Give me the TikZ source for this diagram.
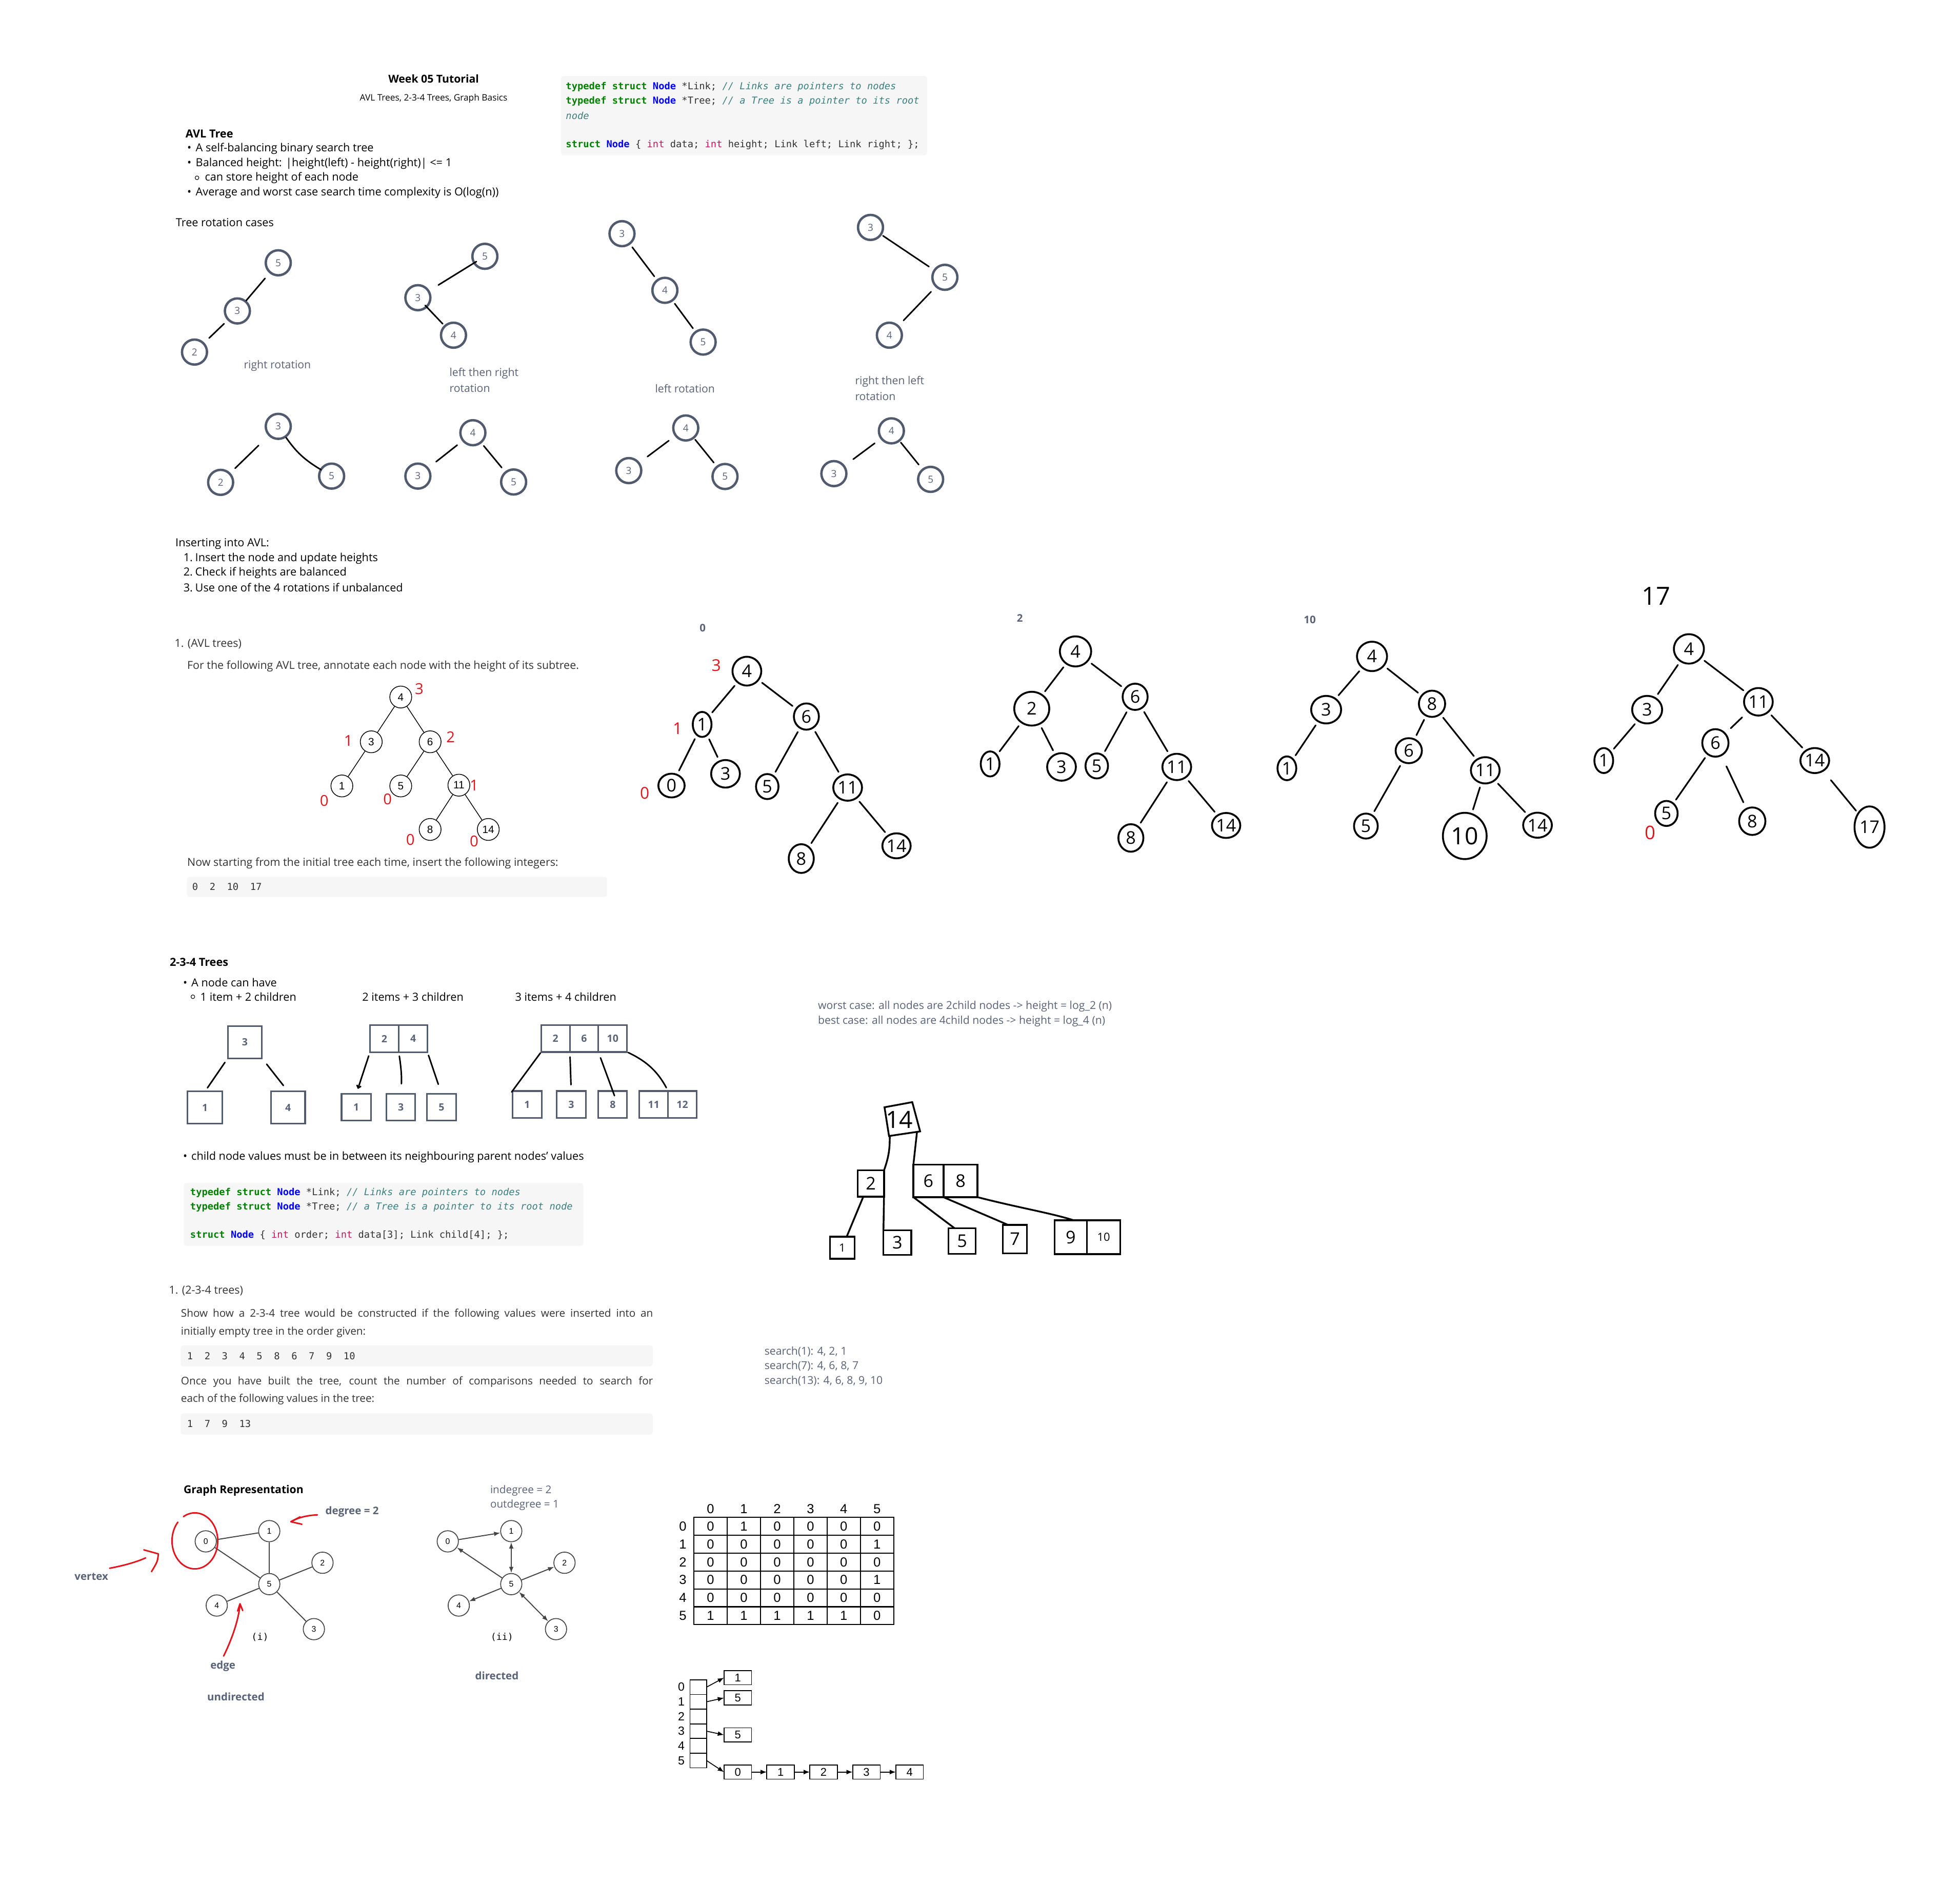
\documentclass[tikz,border=0pt]{standalone}
\usepackage{fontspec}
\setmainfont{Open Sans}
\setmonofont{DejaVu Sans Mono}
\newfontfamily\helv{Liberation Sans}
\usetikzlibrary{arrows.meta,shapes.geometric}
\definecolor{slate}{HTML}{525A6E}
\definecolor{slatetxt}{HTML}{5A6277}
\definecolor{codebg}{HTML}{F6F6F6}
\definecolor{kwgreen}{HTML}{008000}
\definecolor{tyblue}{HTML}{0000FF}
\definecolor{intred}{HTML}{C2185B}
\definecolor{cmteal}{HTML}{3D7F7F}
\definecolor{hred}{HTML}{E3141C}
\definecolor{inkgray}{HTML}{333333}
\definecolor{graphgray}{HTML}{444444}
\newcommand{\fsz}[1]{\fontsize{#1}{#1}\selectfont}
\newcommand{\ckw}[1]{{\color{kwgreen}\bfseries #1}}
\newcommand{\cty}[1]{{\color{tyblue}\bfseries #1}}
\newcommand{\ccm}[1]{{\color{cmteal}\itshape #1}}
\newcommand{\cint}[1]{{\color{intred}#1}}
\tikzset{
  body/.style={anchor=west, inner sep=0pt, font=\fsz{8.9}, text=black},
  note/.style={anchor=west, inner sep=0pt, font=\fsz{8.7}, text=slatetxt},
  lbl/.style={inner sep=0pt, font=\bfseries\fsz{8.4}, text=slatetxt},
  shot/.style={anchor=west, inner sep=0pt, font=\fsz{8.8}, text=inkgray},
  code/.style={anchor=west, inner sep=0pt, font=\ttfamily\fsz{7.7}, text=inkgray},
  codebox/.style={fill=codebg, rounded corners=2pt},
  rn/.style={circle, draw=slate, line width=1.9pt, minimum size=20pt, inner sep=0pt, text=slatetxt, font=\fsz{7.8}},
  re/.style={line width=1.2pt, line cap=round},
  an/.style={circle, draw=black, line width=0.6pt, minimum size=17.5pt, inner sep=0pt, font=\helv\fsz{8.5}},
  ae/.style={line width=0.6pt},
  redtxt/.style={inner sep=0pt, text=hred, font=\fsz{12}},
  hn/.style={ellipse, draw=black, line width=1.5pt, minimum width=22pt, minimum height=22pt, inner sep=0pt, font=\fsz{14}},
  he/.style={line width=1.3pt, line cap=round, shorten <=3pt, shorten >=3pt},
  bx/.style={rectangle, draw=slate, line width=1.3pt, inner sep=0pt, outer sep=0pt, text=slatetxt, font=\bfseries\fsz{8}},
  sk/.style={line width=1.2pt, line cap=round},
  hb/.style={rectangle, draw=black, line width=1.4pt, inner sep=0pt, outer sep=0pt, font=\fsz{14}},
  gn/.style={circle, draw=graphgray, line width=0.7pt, minimum size=17pt, inner sep=0pt, font=\helv\fsz{6.5}},
  ge/.style={draw=graphgray, line width=0.8pt},
  gtip/.style={-{Latex[length=5pt,width=3.6pt]}},
  redp/.style={draw=hred, line width=1.2pt, line cap=round, line join=round},
  mcell/.style={inner sep=0pt, font=\helv\fsz{10.5}},
  mline/.style={line width=0.9pt},
  acell/.style={rectangle, draw, line width=0.7pt, minimum width=13.2pt, minimum height=11.73pt, inner sep=0pt, outer sep=0pt},
  lbox/.style={rectangle, draw, line width=0.7pt, minimum width=22pt, minimum height=11.3pt, inner sep=0pt, outer sep=0pt, font=\helv\fsz{9}},
  larr/.style={line width=0.7pt, -{Latex[length=5pt,width=3.8pt]}}
}
\begin{document}
\begin{tikzpicture}[x=1pt,y=-1pt]
\useasboundingbox (0,0) rectangle (1568,1506);
\fill[white] (0,0) rectangle (1568,1506);

% ---------- code boxes ----------
\fill[codebox] (448.9,60.8) rectangle (741.7,124.2);
\fill[codebox] (149.6,701.4) rectangle (485.6,717.4);
\fill[codebox] (147.1,946.2) rectangle (466.6,996.4);
\fill[codebox] (144.6,1076) rectangle (522.2,1092.9);
\fill[codebox] (144.6,1130.5) rectangle (522.2,1147.4);

% ---------- header ----------
\node[font=\bfseries\fsz{8.7}, inner sep=0pt] (title) at (346.9,62.9) {Week 05 Tutorial};
\node[font=\fsz{7.1}, inner sep=0pt] (subtitle) at (346.9,78.6) {AVL Trees, 2-3-4 Trees, Graph Basics};

\node[code] (c1a) at (452.5,69.4) {\ckw{typedef struct} \cty{Node} *Link; \ccm{// Links are pointers to nodes}};
\node[code] (c1b) at (452.5,80.9) {\ckw{typedef struct} \cty{Node} *Tree; \ccm{// a Tree is a pointer to its root}};
\node[code] (c1c) at (452.5,92.7) {\ccm{node}};
\node[code] (c1d) at (452.5,116) {\ckw{struct} \cty{Node} \{ \cint{int} data; \cint{int} height; Link left; Link right; \};};

\node[body, font=\bfseries\fsz{8.9}] (avlh) at (148.3,106.9) {AVL Tree};
\node[body] (avl1) at (149.6,119) {\makebox[6.8pt][l]{•}A self-balancing binary search tree};
\node[body] (avl2) at (149.6,130.6) {\makebox[6.8pt][l]{•}Balanced height: |height(left) - height(right)| <= 1};
\draw[line width=0.45pt] (157.6,142.2) circle[radius=1.5];
\node[body] (avl3) at (163.7,142.2) {can store height of each node};
\node[body] (avl4) at (149.6,154.3) {\makebox[6.8pt][l]{•}Average and worst case search time complexity is O(log(n))};

% ---------- rotation cases ----------
\node[body] (trc) at (140.5,177.8) {Tree rotation cases};

\node[rn] (A5) at (222.6,210.2) {5};
\node[rn] (A3) at (189.9,248.7) {3};
\node[rn] (A2) at (155.6,281.6) {2};
\draw[re, shorten <=5.4pt] (A5) -- (A3);
\draw[re, shorten <=3.7pt, shorten >=5.2pt] (A3) -- (A2);
\node[note] (lA) at (194.9,292.5) {right rotation};

\node[rn] (B5) at (387.9,205) {5};
\node[rn] (B3) at (334.3,238.1) {3};
\node[rn] (B4) at (362.8,268.1) {4};
\draw[re, shorten <=-3pt, shorten >=8.3pt] (B5) -- (B3);
\draw[re, shorten <=-2.4pt, shorten >=1.6pt] (B3) -- (B4);
\node[note] (lB1) at (359.4,298.7) {left then right};
\node[note] (lB2) at (359.4,310.4) {rotation};

\node[rn] (C3) at (497.6,186.9) {3};
\node[rn] (C4) at (531.9,232.2) {4};
\node[rn] (C5) at (562.5,273.6) {5};
\draw[re, shorten <=2.6pt, shorten >=3pt] (C3) -- (C4);
\draw[re, shorten <=2.3pt, shorten >=2.7pt] (C4) -- (C5);
\node[note] (lC) at (523.9,310.9) {left rotation};

\node[rn] (D3) at (696.4,181.9) {3};
\node[rn] (D5) at (755.9,221.8) {5};
\node[rn] (D4) at (711.5,268.1) {4};
\draw[re, shorten <=1pt, shorten >=4.4pt] (D3) -- (D5);
\draw[re, shorten <=5pt, shorten >=5.4pt] (D5) -- (D4);
\node[note] (lD1) at (683.9,305.3) {right then left};
\node[note] (lD2) at (683.9,317.1) {rotation};

\node[rn] (E3) at (222.6,341) {3};
\node[rn] (E2) at (176.5,385.8) {2};
\node[rn] (E5) at (265.3,380.8) {5};
\draw[re, shorten <=11pt, shorten >=5.2pt] (E3) -- (E2);
\draw[re, shorten >=-1pt] (E3) to[bend right=12] (E5);

\node[rn] (F4) at (378.3,346.1) {4};
\node[rn] (F3) at (334.3,380.8) {3};
\node[rn] (F5) at (410.9,385.5) {5};
\draw[re, shorten <=5pt, shorten >=7.6pt] (F4) -- (F3);
\draw[re, shorten <=2.7pt, shorten >=4pt] (F4) -- (F5);

\node[rn] (G4) at (548.6,342.3) {4};
\node[rn] (G3) at (503,376.4) {3};
\node[rn] (G5) at (580,381.1) {5};
\draw[re, shorten <=6pt, shorten >=7.7pt] (G4) -- (G3);
\draw[re, shorten <=1pt, shorten >=3.3pt] (G4) -- (G5);

\node[rn] (H4) at (713.1,344.6) {4};
\node[rn] (H3) at (667.1,378.8) {3};
\node[rn] (H5) at (744.5,383.4) {5};
\draw[re, shorten <=5.7pt, shorten >=8.3pt] (H4) -- (H3);
\draw[re, shorten <=1pt, shorten >=4.2pt] (H4) -- (H5);

% ---------- inserting ----------
\node[body] (ins) at (140.2,434.9) {Inserting into AVL:};
\node[body] (ins1) at (146.6,446.9) {\makebox[9.4pt][l]{1.}Insert the node and update heights};
\node[body] (ins2) at (146.6,458.1) {\makebox[9.4pt][l]{2.}Check if heights are balanced};
\node[body] (ins3) at (146.6,469.7) {\makebox[9.4pt][l]{3.}Use one of the 4 rotations if unbalanced};

\node[shot] (q1) at (139.5,515) {1. (AVL trees)};
\node[shot] (q1t) at (149.6,533) {For the following AVL tree, annotate each node with the height of its subtree.};

\node[an] (v4) at (320.6,557.5) {4};
\node[an] (v3) at (297.0,593.3) {3};
\node[an] (v6) at (344.1,593.3) {6};
\node[an] (v1) at (273.5,628.6) {1};
\node[an] (v5) at (320.6,628.6) {5};
\node[an] (v11) at (367.1,628.0) {11};
\node[an] (v8) at (344.1,663.4) {8};
\node[an] (v14) at (390.6,663.4) {14};
\draw[ae] (v4) -- (v3); \draw[ae] (v4) -- (v6); \draw[ae] (v3) -- (v1);
\draw[ae] (v6) -- (v5); \draw[ae] (v6) -- (v11); \draw[ae] (v11) -- (v8); \draw[ae] (v11) -- (v14);
\node[redtxt] (rv4) at (335.4,550.8) {3};
\node[redtxt] (rv3) at (278.7,592.3) {1};
\node[redtxt] (rv6) at (360.5,589.4) {2};
\node[redtxt] (rv11) at (379.3,628) {1};
\node[redtxt] (rv1) at (259.4,640.6) {0};
\node[redtxt] (rv5) at (310,639.2) {0};
\node[redtxt] (rv8) at (328.3,671.5) {0};
\node[redtxt] (rv14) at (379.3,673) {0};

\node[shot] (q1n) at (149.6,690.4) {Now starting from the initial tree each time, insert the following integers:};
\node[code] (q1c) at (153.6,709.1) {0\ \ 2\ \ 10\ \ 17};

% ---------- hand trees ----------
\node[lbl] (pl) at (562.1,502.4) {0};
\node[hn, minimum width=23pt, minimum height=23pt] (p4) at (597.5,536.8) {4};
\node[hn, minimum width=15pt, minimum height=20pt] (p1) at (561.7,579.4) {1};
\node[hn, minimum width=20pt, minimum height=21pt] (p6) at (645.1,573.1) {6};
\node[hn, minimum width=21pt, minimum height=19pt] (p0) at (537.2,628.3) {0};
\node[hn, minimum width=23pt, minimum height=22pt] (p3) at (580.4,618.9) {3};
\node[hn, minimum width=18pt, minimum height=20pt] (p5) at (613.8,629.1) {5};
\node[hn, minimum width=23pt, minimum height=21pt] (p11) at (678.1,629.9) {11};
\node[hn, minimum width=20pt, minimum height=23pt] (p8) at (641,686.7) {8};
\node[hn, minimum width=22pt, minimum height=20pt] (p14) at (717.2,676.5) {14};
\draw[he] (p4) -- (p1); \draw[he] (p4) -- (p6); \draw[he] (p1) -- (p0); \draw[he] (p1) -- (p3);
\draw[he] (p6) -- (p5); \draw[he] (p6) -- (p11); \draw[he] (p11) -- (p8); \draw[he] (p11) -- (p14);
\node[redtxt, font=\fsz{13}] (rp4) at (573,532.1) {3};
\node[redtxt, font=\fsz{13}] (rp1) at (542,582.6) {1};
\node[redtxt, font=\fsz{13}] (rp0) at (515.8,634.3) {0};

\node[lbl] (ql) at (815.9,494.5) {2};
\node[hn, minimum width=25pt, minimum height=24pt] (q4) at (860.4,521) {4};
\node[hn, minimum width=28pt, minimum height=27pt] (q2) at (825.4,566.8) {2};
\node[hn, minimum width=20pt, minimum height=21pt] (q6) at (908.1,557.3) {6};
\node[hn, minimum width=15pt, minimum height=20pt] (q1n) at (792.1,611) {1};
\node[hn, minimum width=23pt, minimum height=22pt] (q3) at (849.2,613.4) {3};
\node[hn, minimum width=18pt, minimum height=20pt] (q5) at (877.4,612.6) {5};
\node[hn, minimum width=23pt, minimum height=21pt] (q11) at (941.4,613.4) {11};
\node[hn, minimum width=20pt, minimum height=22pt] (q8) at (904.7,670.2) {8};
\node[hn, minimum width=22pt, minimum height=20pt] (q14) at (980.9,660.2) {14};
\draw[he] (q4) -- (q2); \draw[he] (q4) -- (q6); \draw[he] (q2) -- (q1n); \draw[he] (q2) -- (q3);
\draw[he] (q6) -- (q5); \draw[he] (q6) -- (q11); \draw[he] (q11) -- (q8); \draw[he] (q11) -- (q14);

\node[lbl] (sl) at (1047.8,495.8) {10};
\node[hn, minimum width=24pt, minimum height=23.5pt] (s4) at (1097.6,525) {4};
\node[hn, minimum width=24pt, minimum height=22pt] (s3) at (1060.9,567.6) {3};
\node[hn, minimum width=21pt, minimum height=21pt] (s8) at (1145.6,562.9) {8};
\node[hn, minimum width=15pt, minimum height=19pt] (s1) at (1029.5,614.5) {1};
\node[hn, minimum width=21pt, minimum height=20pt] (s6) at (1127,600.4) {6};
\node[hn, minimum width=23pt, minimum height=21pt] (s11) at (1188.2,616.1) {11};
\node[hn, minimum width=19pt, minimum height=20pt] (s5) at (1092.7,660.7) {5};
\node[hn, minimum width=35pt, minimum height=37pt, font=\fsz{19}] (s10) at (1171.8,668.6) {10};
\node[hn, minimum width=23pt, minimum height=20pt] (s14) at (1230,660) {14};
\draw[he] (s4) -- (s3); \draw[he] (s4) -- (s8); \draw[he] (s3) -- (s1); \draw[he] (s8) -- (s6);
\draw[he] (s8) -- (s11); \draw[he] (s6) -- (s5); \draw[he] (s11) -- (s10); \draw[he] (s11) -- (s14);

\node[inner sep=0pt, font=\fsz{20}] (ul) at (1324.9,476.7) {17};
\node[hn, minimum width=24pt, minimum height=23.5pt] (u4) at (1351.1,519) {4};
\node[hn, minimum width=24pt, minimum height=22pt] (u3) at (1317.7,567.6) {3};
\node[hn, minimum width=23pt, minimum height=22pt] (u11) at (1406.7,561.3) {11};
\node[hn, minimum width=15pt, minimum height=20pt] (u1) at (1283,608.3) {1};
\node[hn, minimum width=21pt, minimum height=22pt] (u6) at (1372.3,594.2) {6};
\node[hn, minimum width=23pt, minimum height=20pt] (u14) at (1451.8,608.3) {14};
\node[hn, minimum width=18pt, minimum height=20pt] (u5) at (1333.1,650.6) {5};
\node[hn, minimum width=21pt, minimum height=22pt] (u8) at (1401.8,656.8) {8};
\node[hn, minimum width=24pt, minimum height=33pt, font=\fsz{14}] (u17) at (1495.6,661.5) {17};
\draw[he] (u4) -- (u3); \draw[he] (u4) -- (u11); \draw[he] (u3) -- (u1);
\draw[he, shorten <=6pt, shorten >=5.5pt] (u11) -- (u6);
\draw[he] (u11) -- (u14); \draw[he] (u6) -- (u5);
\draw[he, shorten <=9pt, shorten >=5pt] (u6) -- (u8);
\draw[he, shorten <=9pt, shorten >=2pt] (u14) -- (u17);
\node[redtxt, font=\fsz{15}] (ru5) at (1320,666.2) {0};

% ---------- 2-3-4 trees ----------
\node[body, font=\bfseries\fsz{8.9}] (t234) at (135.6,769.6) {2-3-4 Trees};
\node[body] (t234a) at (146.3,785.8) {\makebox[6.6pt][l]{•}A node can have};
\draw[line width=0.45pt] (154.3,797.2) circle[radius=1.5];
\node[body] (t234b) at (160.1,797.2) {1 item + 2 children};
\node[body] (t234c) at (289.6,797.2) {2 items + 3 children};
\node[body] (t234d) at (411.9,797.2) {3 items + 4 children};

\node[bx, minimum width=27.4pt, minimum height=25.8pt] (B3) at (195.9,833.5) {3};
\node[bx, minimum width=27.9pt, minimum height=25.7pt] (B1) at (164,885.8) {1};
\node[bx, minimum width=27.3pt, minimum height=25.7pt] (B4) at (230.45,885.8) {4};
\draw[sk, shorten <=4pt, shorten >=3.5pt] (B3.south west) -- (B1.north);
\draw[sk, shorten <=6pt, shorten >=6pt] (B3.south east) -- (B4.north);

\node[bx, minimum width=23.1pt, minimum height=21.9pt] (C2) at (307.45,830.75) {2};
\node[bx, minimum width=23pt, minimum height=21.9pt] (C4) at (330.5,830.75) {4};
\node[bx, minimum width=23.6pt, minimum height=21.5pt] (B1b) at (285,885.55) {1};
\node[bx, minimum width=23pt, minimum height=21.5pt] (B3b) at (320.7,885.55) {3};
\node[bx, minimum width=23.6pt, minimum height=21.5pt] (B5b) at (353.2,885.55) {5};
\draw[sk, shorten <=3pt, shorten >=4pt, -{Straight Barb[length=2pt,width=3.5pt]}] (C2.south west) -- (B1b.north);
\draw[sk, shorten <=3pt, shorten >=8pt] (C2.south east) to[bend left=6] (B3b.north);
\draw[sk, shorten <=2.5pt, shorten >=8pt] (C4.south east) -- (B5b.north);

\node[bx, minimum width=23pt, minimum height=21.6pt] (D2) at (444.4,830.6) {2};
\node[bx, minimum width=22.8pt, minimum height=21.6pt] (D6) at (467.3,830.6) {6};
\node[bx, minimum width=23pt, minimum height=21.6pt] (D10) at (490.2,830.6) {10};
\node[bx, minimum width=23.6pt, minimum height=21.7pt] (E1) at (421.7,883.45) {1};
\node[bx, minimum width=23.3pt, minimum height=21.7pt] (E3) at (456.95,883.45) {3};
\node[bx, minimum width=23pt, minimum height=21.7pt] (E8) at (490.2,883.45) {8};
\node[bx, minimum width=23pt, minimum height=21.7pt] (E11) at (523,883.45) {11};
\node[bx, minimum width=22.7pt, minimum height=21.7pt] (E12) at (545.85,883.45) {12};
\draw[sk, shorten <=1pt, shorten >=-1pt] (D2.south west) -- (E1.north west);
\draw[sk, shorten <=4pt, shorten >=5pt] (D2.south east) -- (E3.north);
\draw[sk, shorten <=5pt, shorten >=-4pt] (D6.south east) -- (E8.north);
\draw[sk, shorten <=1pt, shorten >=3pt] (D10.south east) to[bend left=18] (E11.north east);

\node[body] (t234e) at (146.3,925.6) {\makebox[6.6pt][l]{•}child node values must be in between its neighbouring parent nodes' values};

\node[code] (c2a) at (152,954) {\ckw{typedef struct} \cty{Node} *Link; \ccm{// Links are pointers to nodes}};
\node[code] (c2b) at (152,965.4) {\ckw{typedef struct} \cty{Node} *Tree; \ccm{// a Tree is a pointer to its root node}};
\node[code] (c2c) at (152,988) {\ckw{struct} \cty{Node} \{ \cint{int} order; \cint{int} data[3]; Link child[4]; \};};

\node[note] (wc) at (654.2,805) {worst case: all nodes are 2child nodes -> height = log\_2 (n)};
\node[note] (bc) at (654.2,816.7) {best case: all nodes are 4child nodes -> height = log\_4 (n)};

% hand-drawn 2-3-4 tree
\node[inner sep=0pt, font=\fsz{19}] (H14) at (719.5,895.5) {14};
\draw[sk, line width=1.4pt] (707.6,885.6) -- (729.8,881.5) -- (736.1,904.9) -- (711.2,908.6) -- cycle;
\coordinate (H14sw) at (711.8,908.5);
\coordinate (H14se) at (733.6,905.2);
\node[hb, minimum width=21pt, minimum height=21pt] (H2) at (696.7,946.6) {2};
\node[hb, minimum width=24pt, minimum height=26pt] (H6) at (742.7,944.5) {6};
\node[hb, minimum width=27pt, minimum height=26pt] (H8) at (768.5,944.5) {8};
\node[hb, minimum width=19.6pt, minimum height=17.6pt, font=\fsz{9}] (H1) at (673.8,997.9) {1};
\node[hb, minimum width=22.3pt, minimum height=19.8pt] (H3) at (717.9,993.9) {3};
\node[hb, minimum width=21.7pt, minimum height=20.5pt] (H5) at (769.7,992.7) {5};
\node[hb, minimum width=19.3pt, minimum height=22.7pt] (H7) at (811.9,991) {7};
\node[hb, minimum width=25.8pt, minimum height=27pt] (H9) at (856.6,989.5) {9};
\node[hb, minimum width=26.7pt, minimum height=27pt, font=\fsz{9}] (H10) at (882.9,989.5) {10};
\draw[sk, line width=1.4pt] (H14sw) to[bend left=10] (H2.north east);
\draw[sk, line width=1.4pt] (H14se) -- (H6.north west);
\draw[sk, line width=1.4pt] (H2.240) -- (H1.68);
\draw[sk, line width=1.4pt] (H2.south east) -- (H3.north west);
\draw[sk, line width=1.4pt] (H6.south west) -- (H5.120);
\draw[sk, line width=1.4pt] (H6.south east) -- (H7.116);
\draw[sk, line width=1.4pt] (H8.south east) .. controls (815,966) and (840,970) .. (H9.80);

% 2-3-4 question
\node[shot] (q2h) at (135,1032.5) {1. (2-3-4 trees)};
\node[shot, font=\fsz{8.5}] (q2a) at (144.6,1050.9) {\makebox[377.6pt][s]{Show how a 2-3-4 tree would be constructed if the following values were inserted into an}};
\node[shot, font=\fsz{8.5}] (q2b) at (144.6,1065.3) {initially empty tree in the order given:};
\node[code] (q2c) at (149.5,1084.7) {1\ \ 2\ \ 3\ \ 4\ \ 5\ \ 8\ \ 6\ \ 7\ \ 9\ \ 10};
\node[shot, font=\fsz{8.5}] (q2d) at (144.6,1105.2) {\makebox[377.6pt][s]{Once you have built the tree, count the number of comparisons needed to search for}};
\node[shot, font=\fsz{8.5}] (q2e) at (144.6,1119.3) {each of the following values in the tree:};
\node[code] (q2f) at (149.5,1138.9) {1\ \ 7\ \ 9\ \ 13};

\node[note] (sr1) at (611.4,1081) {search(1): 4, 2, 1};
\node[note] (sr2) at (611.4,1092.6) {search(7): 4, 6, 8, 7};
\node[note] (sr3) at (611.4,1104.3) {search(13): 4, 6, 8, 9, 10};

% ---------- graph representation ----------
\node[body, font=\bfseries\fsz{8.7}] (grh) at (146.7,1192.2) {Graph Representation};
\node[lbl, anchor=west] (deg) at (260.2,1208.9) {degree = 2};

\node[gn] (g0) at (164.6,1232.8) {0};
\node[gn] (g1) at (215.4,1224.6) {1};
\node[gn] (g2) at (258,1249.9) {2};
\node[gn] (g5) at (215.4,1267) {5};
\node[gn] (g4) at (173.4,1284.1) {4};
\node[gn] (g3) at (251.1,1303) {3};
\draw[ge] (g0) -- (g1); \draw[ge] (g0) -- (g5); \draw[ge] (g1) -- (g5);
\draw[ge] (g5) -- (g2); \draw[ge] (g5) -- (g4); \draw[ge] (g5) -- (g3);
\node[inner sep=0pt, font=\ttfamily\fsz{7.5}] (gi) at (208,1309.4) {(i)};

% red annotations
\draw[redp] (146.75,1213) arc[start angle=-120, end angle=222, x radius=18.3, y radius=22.4];
\draw[redp] (87.7,1254.3) .. controls (100,1252) and (110,1249) .. (116.5,1246);
\draw[redp] (115.1,1239.6) -- (126.7,1242.8) .. controls (126,1249) .. (121.2,1257);
\draw[redp] (253.9,1211.6) .. controls (245,1212) and (238,1214) .. (232.7,1217.1);
\draw[redp] (240.1,1213.2) -- (232.7,1217.1) -- (241.5,1219.1);
\draw[redp] (178.9,1324.5) .. controls (186,1310) and (191,1295) .. (192,1283);
\draw[redp] (190.1,1288.5) -- (192,1282.7) -- (194.2,1288.2);
\node[lbl] (vx) at (73.1,1261.1) {vertex};
\node[lbl] (ed) at (178.3,1332.7) {edge};
\node[lbl] (und) at (188.7,1357) {undirected};

\node[note, font=\fsz{8.5}] (ind) at (392,1192.2) {indegree = 2};
\node[note, font=\fsz{8.5}] (outd) at (392,1203.7) {outdegree = 1};
\node[gn] (h0) at (358.2,1232.8) {0};
\node[gn] (h1) at (409,1224.6) {1};
\node[gn] (h2) at (451.6,1249.9) {2};
\node[gn] (h5) at (409,1267) {5};
\node[gn] (h4) at (367,1284.1) {4};
\node[gn] (h3) at (444.8,1303) {3};
\draw[ge, gtip] (h0) -- (h1);
\draw[ge, {Latex[length=5pt,width=3.6pt]}-{Latex[length=5pt,width=3.6pt]}] (h1) -- (h5);
\draw[ge, gtip] (h5) -- (h0);
\draw[ge, gtip] (h5) -- (h2);
\draw[ge, gtip] (h5) -- (h4);
\draw[ge, {Latex[length=5pt,width=3.6pt]}-{Latex[length=5pt,width=3.6pt]}] (h5) -- (h3);
\node[inner sep=0pt, font=\ttfamily\fsz{7.5}] (gii) at (401.6,1309.4) {(ii)};
\node[lbl] (dir) at (397.5,1340.2) {directed};

% ---------- adjacency matrix ----------
\draw[mline] (555.1,1213.6) rectangle (715,1299.4);
\foreach \i in {1,...,5} {
  \draw[mline] ({555.1+\i*26.65},1213.6) -- ({555.1+\i*26.65},1299.4);
  \draw[mline] (555.1,{1213.6+\i*14.3}) -- (715,{1213.6+\i*14.3});
}
\foreach \c in {0,...,5} {
  \node[mcell] (mh\c) at ({568.4+\c*26.65},1206.7) {\c};
  \node[mcell] (mr\c) at (546.2,{1220.75+\c*14.3}) {\c};
}
\foreach \r/\vals in {0/{0,1,0,0,0,0},1/{0,0,0,0,0,1},2/{0,0,0,0,0,0},3/{0,0,0,0,0,1},4/{0,0,0,0,0,0},5/{1,1,1,1,1,0}} {
  \foreach \v [count=\c from 0] in \vals {
    \node[mcell] (m\r\c) at ({568.4+\c*26.65},{1220.75+\r*14.3}) {\v};
  }
}

% ---------- adjacency list ----------
\foreach \i in {0,...,5} {
  \node[acell] (a\i) at (558.6,{1349.4+\i*11.73}) {};
  \node[mcell, font=\helv\fsz{9.5}] (al\i) at (545,{1349.1+\i*11.8}) {\i};
}
\node[lbox] (l0) at (590.2,1341.85) {1};
\node[lbox] (l1) at (590.2,1357.95) {5};
\node[lbox] (l3) at (590.2,1387.6) {5};
\node[lbox] (l5a) at (590.2,1417.3) {0};
\node[lbox] (l5b) at (624.45,1417.3) {1};
\node[lbox] (l5c) at (658.9,1417.3) {2};
\node[lbox] (l5d) at (693.15,1417.3) {3};
\node[lbox] (l5e) at (727.7,1417.3) {4};
\draw[larr] (a0.east) -- (l0.west);
\draw[larr] (a1.east) -- (l1.west);
\draw[larr] (a3.east) -- (l3.west);
\draw[larr] (a5.east) -- (l5a.west);
\draw[larr] (l5a) -- (l5b);
\draw[larr] (l5b) -- (l5c);
\draw[larr] (l5c) -- (l5d);
\draw[larr] (l5d) -- (l5e);
\end{tikzpicture}
\end{document}
